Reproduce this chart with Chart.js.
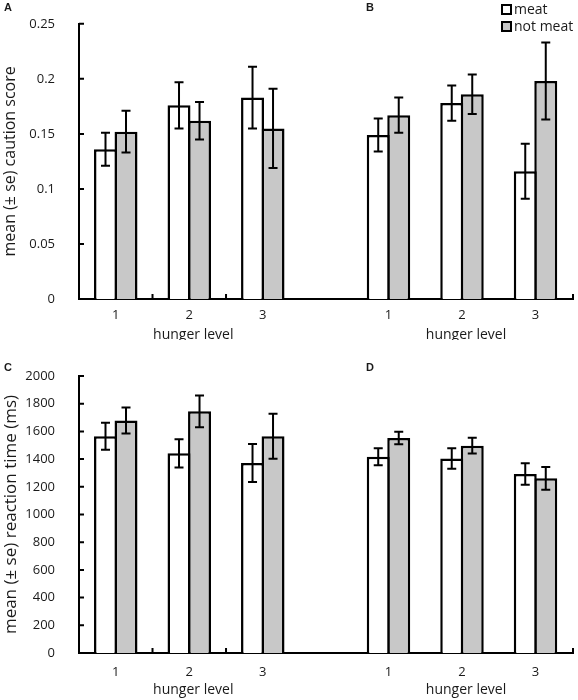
<!DOCTYPE html>
<html>
<head>
<meta charset="utf-8">
<script src="https://cdn.jsdelivr.net/npm/chart.js@4.4.0/dist/chart.umd.min.js"></script>
<style>
  body { margin: 0; background: #fff; }
  canvas { display: block; }
</style>
</head>
<body>
<canvas id="cautionChart" width="578" height="340"></canvas>
<canvas id="reactionChart" width="578" height="360"></canvas>
<script>
// hunger levels, panel A (left) then panel B / D (right) use the same three
const hungerLevels = ['1', '2', '3'];
const seriesNames = ['meat', 'not meat'];

// caution score: A1 A2 A3 B1 B2 B3
const cautionMeat = [0.136, 0.176, 0.183, 0.149, 0.178, 0.116];
const cautionMeatSe = [0.015, 0.021, 0.028, 0.015, 0.016, 0.025];
const cautionNotMeat = [0.152, 0.162, 0.155, 0.167, 0.186, 0.198];
const cautionNotMeatSe = [0.019, 0.017, 0.036, 0.016, 0.018, 0.035];
const cautionTicks = [0, 0.05, 0.1, 0.15, 0.2, 0.25];

// reaction time (ms): C1 C2 C3 D1 D2 D3
const reactionMeat = [1565, 1442, 1372, 1417, 1405, 1292];
const reactionMeatSe = [97, 102, 137, 62, 74, 78];
const reactionNotMeat = [1678, 1745, 1565, 1552, 1497, 1261];
const reactionNotMeatSe = [94, 115, 163, 45, 57, 82];
const reactionTicks = [0, 200, 400, 600, 800, 1000, 1200, 1400, 1600, 1800, 2000];

// the right panel sits on the same axis, shifted along it
const rightPanelShift = 3.71;
const xEnd = 7.22;
const xPositions = [0, 1, 2, 3, 4, 5].map(i => (i % 3) + 1 + (i >= 3 ? rightPanelShift : 0));

Chart.defaults.font.family = "'Open Sans', sans-serif";
Chart.defaults.font.size = 13;
Chart.defaults.color = '#1a1a1a';

const figureMarks = {
    id: 'figureMarks',
    afterDatasetsDraw(chart) {
        const { ctx, scales: { x, y }, chartArea } = chart;
        ctx.save();
        ctx.strokeStyle = '#000';
        ctx.lineWidth = 2;

        // error bars (mean ± se)
        chart.data.datasets.forEach((ds, i) => {
            chart.getDatasetMeta(i).data.forEach((bar, j) => {
                const hi = y.getPixelForValue(ds.data[j].y + ds.se[j]);
                const lo = y.getPixelForValue(ds.data[j].y - ds.se[j]);
                ctx.beginPath();
                ctx.moveTo(bar.x, hi); ctx.lineTo(bar.x, lo);
                ctx.moveTo(bar.x - 4.5, hi); ctx.lineTo(bar.x + 4.5, hi);
                ctx.moveTo(bar.x - 4.5, lo); ctx.lineTo(bar.x + 4.5, lo);
                ctx.stroke();
            });
        });

        // inward tick marks
        ctx.beginPath();
        y.ticks.forEach(t => {
            const py = y.getPixelForValue(t.value);
            ctx.moveTo(chartArea.left, py); ctx.lineTo(chartArea.left + 5, py);
        });
        const bounds = [1.5, 2.5, 1.5 + rightPanelShift + 3, 2.5 + rightPanelShift + 3, xEnd];
        bounds.forEach(v => {
            const px = x.getPixelForValue(v);
            ctx.moveTo(px, chartArea.bottom); ctx.lineTo(px, chartArea.bottom - 5);
        });
        ctx.stroke();
        ctx.restore();
    },
    afterDraw(chart, args, opts) {
        const { ctx, scales: { x } } = chart;
        ctx.save();
        ctx.fillStyle = '#1a1a1a';
        ctx.textAlign = 'center';
        ctx.textBaseline = 'middle';

        // axis captions under each panel
        ctx.font = "14px 'Open Sans', sans-serif";
        [2, 2 + rightPanelShift].forEach(v => {
            ctx.fillText('hunger level', x.getPixelForValue(v) + 4, opts.captionY);
        });

        // panel letters
        ctx.font = "bold 11px 'Liberation Sans', Arial, sans-serif";
        opts.letters.forEach(l => ctx.fillText(l.text, l.x, l.y));

        // legend
        if (opts.legend) {
            ctx.font = "14px 'Open Sans', sans-serif";
            ctx.textAlign = 'left';
            chart.data.datasets.forEach((ds, i) => {
                const cy = 10 + i * 17;
                ctx.fillStyle = ds.backgroundColor;
                ctx.fillRect(502, cy - 5, 9, 9);
                ctx.strokeStyle = '#000';
                ctx.lineWidth = 2;
                ctx.strokeRect(502, cy - 5, 9, 9);
                ctx.fillStyle = '#1a1a1a';
                ctx.fillText(ds.label, 514, cy);
            });
        }
        ctx.restore();
    }
};

const makeChart = (canvasId, meat, meatSe, notMeat, notMeatSe, yTicks, yTitle, layout) => {
    const toPoints = values => values.map((v, i) => ({ x: xPositions[i], y: v }));
    return new Chart(document.getElementById(canvasId), {
        type: 'bar',
        data: {
            datasets: [
                {
                    label: seriesNames[0],
                    data: toPoints(meat),
                    se: meatSe,
                    backgroundColor: '#ffffff',
                    borderColor: '#000000',
                    borderWidth: 2.5
                },
                {
                    label: seriesNames[1],
                    data: toPoints(notMeat),
                    se: notMeatSe,
                    backgroundColor: '#c8c8c8',
                    borderColor: '#000000',
                    borderWidth: 2.5
                }
            ]
        },
        options: {
            responsive: false,
            animation: false,
            events: [],
            categoryPercentage: 0.558,
            barPercentage: 1.12,
            layout: { padding: { top: layout.top, right: 5, bottom: 0, left: 0 } },
            plugins: {
                legend: { display: false },
                tooltip: { enabled: false },
                figureMarks: layout.marks
            },
            scales: {
                x: {
                    type: 'linear',
                    offset: false,
                    min: 0.5,
                    max: xEnd,
                    afterBuildTicks: scale => { scale.ticks = xPositions.map(v => ({ value: v })); },
                    afterFit: scale => { scale.height = layout.xHeight; },
                    ticks: {
                        padding: layout.xPad,
                        maxRotation: 0,
                        autoSkip: false,
                        callback: (v, i) => hungerLevels[i % hungerLevels.length]
                    },
                    grid: { display: false, offset: false },
                    border: { display: true, color: '#000', width: 2 }
                },
                y: {
                    min: yTicks[0],
                    max: yTicks[yTicks.length - 1],
                    afterBuildTicks: scale => { scale.ticks = yTicks.map(v => ({ value: v })); },
                    afterFit: scale => { scale.width = 79; },
                    ticks: { padding: 16, callback: v => String(v) },
                    grid: { display: false },
                    border: { display: true, color: '#000', width: 2 },
                    title: {
                        display: true,
                        text: yTitle,
                        font: { size: layout.titleSize },
                        padding: { top: 1, bottom: 0 }
                    }
                }
            }
        },
        plugins: [figureMarks]
    });
};

makeChart('cautionChart', cautionMeat, cautionMeatSe, cautionNotMeat, cautionNotMeatSe,
    cautionTicks, 'mean (± se) caution score', {
        top: 21, xHeight: 41, xPad: 0, titleSize: 16,
        marks: { captionY: 335, legend: true, letters: [{ text: 'A', x: 8, y: 8 }, { text: 'B', x: 370, y: 8 }] }
    });

makeChart('reactionChart', reactionMeat, reactionMeatSe, reactionNotMeat, reactionNotMeatSe,
    reactionTicks, 'mean (± se) reaction time (ms)', {
        top: 36, xHeight: 47, xPad: 3, titleSize: 17,
        marks: { captionY: 350, legend: false, letters: [{ text: 'C', x: 8, y: 28 }, { text: 'D', x: 370, y: 28 }] }
    });
</script>
</body>
</html>
